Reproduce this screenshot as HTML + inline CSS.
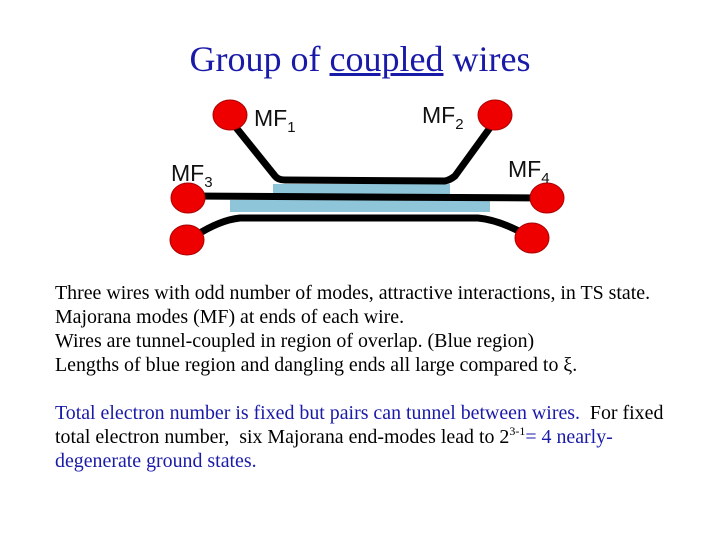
<!DOCTYPE html>
<html><head><style>
body{margin:0;width:720px;height:540px;background:#fff;position:relative;overflow:hidden;font-family:"Liberation Serif",serif}
.t{position:absolute;left:0;width:720px;text-align:center;top:38px;font-size:36px;color:#1a1aa8}
.p{position:absolute;left:55px;font-size:19.9px;line-height:24px;white-space:nowrap}
sup{line-height:0;vertical-align:0;position:relative;top:-8px}
</style></head><body>
<div class="t">Group of <u>coupled</u> wires</div>
<svg width="720" height="540" style="position:absolute;left:0;top:0">
<rect x="273" y="184" width="177" height="10" fill="#8fc5d9"/>
<rect x="230" y="200" width="260" height="12" fill="#8fc5d9"/>
<g fill="none" stroke="#000" stroke-width="7" stroke-linejoin="round">
<path d="M234,125 L275,176 Q278,180 285,180 L445,181 Q450,180 455,176 L492,125"/>
<path d="M190,196 L546,198"/>
<path d="M195,236 Q220,220 240,218 L478,218 Q500,220 528,236"/>
</g>
<g fill="#e00" stroke="#a00" stroke-width="1">
<ellipse cx="230" cy="115" rx="17" ry="15"/>
<ellipse cx="495" cy="115" rx="17" ry="15"/>
<ellipse cx="188" cy="198" rx="17" ry="15"/>
<ellipse cx="547" cy="198" rx="17" ry="15"/>
<ellipse cx="187" cy="240" rx="17" ry="15"/>
<ellipse cx="532" cy="238" rx="17" ry="15"/>
</g>
<g font-family="Liberation Sans,sans-serif" font-size="23" fill="#111">
<text x="254" y="126">MF<tspan font-size="15" dy="6">1</tspan></text>
<text x="422" y="123">MF<tspan font-size="15" dy="6">2</tspan></text>
<text x="171" y="181">MF<tspan font-size="15" dy="6">3</tspan></text>
<text x="508" y="177">MF<tspan font-size="15" dy="6">4</tspan></text>
</g>
</svg>
<div class="p" style="top:281px">Three wires with odd number of modes, attractive interactions, in TS state.<br>Majorana modes (MF) at ends of each wire.<br>Wires are tunnel-coupled in region of overlap. (Blue region)<br>Lengths of blue region and dangling ends all large compared to ξ.</div>
<div class="p" style="top:401px"><span style="color:#1a1aa8">Total electron number is fixed but pairs can tunnel between wires.</span>&nbsp; For fixed<br>total electron number,&nbsp; six Majorana end-modes lead to 2<sup style="font-size:12px">3-1</sup><span style="color:#1a1aa8">= 4 nearly-</span><br><span style="color:#1a1aa8">degenerate ground states.</span></div>
</body></html>
